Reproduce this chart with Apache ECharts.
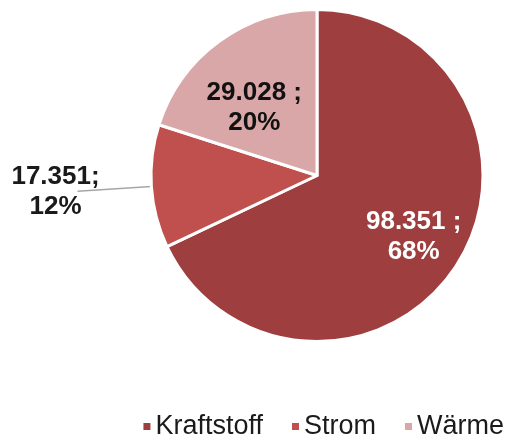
<!DOCTYPE html>
<html>
<head>
<meta charset="utf-8">
<script src="https://cdn.jsdelivr.net/npm/echarts@6/dist/echarts.min.js"></script>
<style>
  html, body { margin: 0; padding: 0; background: #fff; }
  #chart { width: 507px; height: 439px; }
</style>
</head>
<body>
<div id="chart"></div>
<script>
var categories = ["Kraftstoff", "Strom", "Wärme"];
var values = [98.351, 17.351, 29.028];
var labelTexts = ["98.351 ;", "17.351;", "29.028 ;"];
var percents = ["68%", "12%", "20%"];
var colors = ["#9f3e3e", "#c0504d", "#d9a7a7"];

var chart = echarts.init(document.getElementById("chart"));

var pieData = [];
for (var i = 0; i < categories.length; i++) {
    pieData.push({
        name: categories[i],
        value: values[i],
        itemStyle: { color: colors[i] }
    });
}
// Kraftstoff label white and inside
pieData[0].label = { position: "inside", color: "#fff" };
// Strom label outside with leader line
pieData[1].label = { position: "outside", color: "#1a1a1a", distanceToLabelLine: 22, overflow: "none" };
pieData[1].labelLine = { show: true, length: 74, length2: 0, lineStyle: { color: "#a6a6a6", width: 1.5 } };
// Wärme label inside
pieData[2].label = { position: "inside", color: "#111" };

var option = {
    animation: false,
    legend: {
        data: categories,
        right: -2,
        top: 408,
        icon: "rect",
        itemWidth: 9,
        itemHeight: 9,
        itemGap: 27,
        textStyle: {
            fontFamily: "Liberation Sans, Arial, sans-serif",
            fontSize: 27,
            color: "#1a1a1a",
            padding: [0, 0, 0, -1]
        }
    },
    series: [
        {
            type: "pie",
            center: [317, 175.5],
            radius: 166,
            startAngle: 90,
            clockwise: true,
            itemStyle: { borderColor: "#fff", borderWidth: 3 },
            label: {
                fontFamily: "Liberation Sans, Arial, sans-serif",
                fontSize: 26,
                fontWeight: "bold",
                lineHeight: 30,
                overflow: "none",
                formatter: function (p) {
                    return labelTexts[p.dataIndex] + "\n" + percents[p.dataIndex];
                }
            },
            labelLine: { show: false },
            labelLayout: function (p) {
                if (p.dataIndex === 0) return { dx: 24, dy: 15 };
                if (p.dataIndex === 1) return { align: "center" };
                return { dx: -12, dy: 2 };
            },
            data: pieData
        }
    ]
};
chart.setOption(option);
</script>
</body>
</html>
